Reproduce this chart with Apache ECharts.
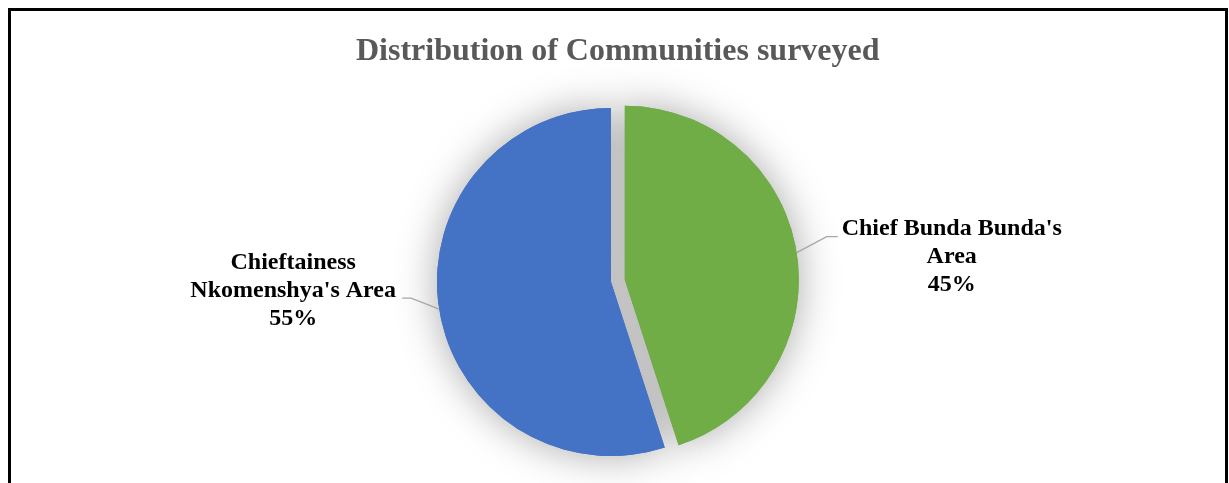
<!DOCTYPE html>
<html>
<head>
<meta charset="utf-8">
<style>
  html, body { margin: 0; padding: 0; background: #fff; }
  #chart { width: 1229px; height: 483px; }
</style>
<script src="https://cdn.jsdelivr.net/npm/echarts@6/dist/echarts.min.js"></script>
</head>
<body>
<div id="chart"></div>
<script>
// Survey communities and their share of respondents
const chartTitle = 'Distribution of Communities surveyed';
const areaNames = ["Chief Bunda Bunda's\nArea", "Chieftainess\nNkomenshya's Area"];
const areaShares = [45, 55];
const areaColors = ['#70AD47', '#4472C4'];

const pieCenter = [611, 282];
const pieRadius = 174;
const explodeOffset = 14;

const total = areaShares.reduce((a, b) => a + b, 0);
// direction in which the first (exploded) slice is pulled out
const explodeMid = (areaShares[0] / total) * Math.PI; // half of its sweep, clockwise from 12 o'clock
const explodeDx = explodeOffset * Math.sin(explodeMid);
const explodeDy = -explodeOffset * Math.cos(explodeMid);

function makeData(transparent) {
  return areaNames.map((name, i) => ({
    name: name,
    value: areaShares[i],
    selected: !transparent && i === 0,
    itemStyle: { color: transparent ? 'rgba(0,0,0,0)' : areaColors[i] }
  }));
}

const chart = echarts.init(document.getElementById('chart'), null, { renderer: 'canvas' });

const commonPie = {
  type: 'pie',
  center: pieCenter,
  radius: pieRadius,
  startAngle: 90,
  clockwise: true,
  selectedMode: 'single',
  selectedOffset: explodeOffset,
  silent: true,
  animation: false,
  emphasis: { disabled: true },
  label: { show: false },
  labelLine: { show: false }
};

chart.setOption({
  backgroundColor: '#ffffff',
  title: {
    text: chartTitle,
    left: 351,
    top: 31,
    textStyle: {
      fontFamily: '"Liberation Serif", "Times New Roman", serif',
      fontWeight: 'bold',
      fontSize: 32,
      color: '#595959'
    }
  },
  graphic: [{
    type: 'rect',
    shape: { x: 9.5, y: 9.5, width: 1217, height: 600 },
    style: { fill: null, stroke: '#000', lineWidth: 3 },
    silent: true,
    z: 10
  }],
  series: [
    // soft shadow layer underneath
    Object.assign({}, commonPie, {
      data: makeData(false),
      z: 1,
      itemStyle: { shadowBlur: 40, shadowColor: 'rgba(0,0,0,0.34)' }
    }),
    // clean slices on top
    Object.assign({}, commonPie, {
      data: makeData(false),
      z: 2
    }),
    // data labels with leader lines
    Object.assign({}, commonPie, {
      data: makeData(true),
      selectedMode: false,
      z: 3,
      label: {
        show: true,
        position: 'outside',
        fontFamily: '"Liberation Serif", "Times New Roman", serif',
        fontWeight: 'bold',
        fontSize: 24,
        lineHeight: 28,
        color: '#000',
        align: 'center',
        formatter: p => p.name + '\n' + Math.round(p.percent) + '%'
      },
      labelLine: {
        show: true,
        length: 20,
        length2: 10,
        lineStyle: { color: '#a6a6a6', width: 1.3 }
      },
      labelLayout: function (p) {
        let s = p.labelLinePoints[0];
        if (p.dataIndex === 0) {
          s = [s[0] + explodeDx, s[1] + explodeDy];
          return {
            x: s[0] + 155, y: s[1] + 4,
            align: 'center', verticalAlign: 'middle',
            labelLinePoints: [s, [s[0] + 30, s[1] - 16], [s[0] + 41, s[1] - 16]]
          };
        }
        return {
          x: s[0] - 146, y: s[1] - 18,
          align: 'center', verticalAlign: 'middle',
          labelLinePoints: [s, [s[0] - 28, s[1] - 11], [s[0] - 37, s[1] - 11]]
        };
      }
    })
  ]
});
</script>
</body>
</html>
